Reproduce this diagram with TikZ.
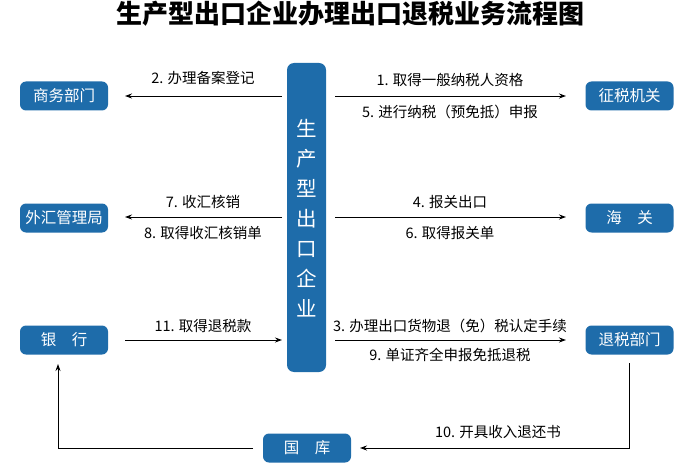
\documentclass[tikz,border=0pt]{standalone}
\usepackage{fontspec}
\setmainfont{Noto Sans CJK SC}
\usetikzlibrary{arrows.meta}
\definecolor{boxblue}{RGB}{30,108,170}
\tikzset{
  org/.style={fill=boxblue, rounded corners=6pt, text=white, minimum width=88pt, minimum height=29pt, inner sep=0pt, font=\fontsize{15.5}{18}\selectfont},
  lbl/.style={font=\fontsize{14.5}{17}\selectfont, text=black, inner sep=0pt},
  arr/.style={-{Stealth[length=7pt,width=5pt]}, line width=0.9pt, black},
  ln/.style={line width=0.9pt, black}
}
\begin{document}
\begin{tikzpicture}[x=1pt,y=-1pt]
\useasboundingbox (0,0) rectangle (700,470);
\node[font=\fontsize{26}{30}\selectfont\bfseries] (title) at (350,14) {生产型出口企业办理出口退税业务流程图};
% central box
\node[fill=boxblue, rounded corners=7pt, minimum width=39pt, minimum height=309pt, inner sep=0pt] (c) at (306.5,217.5) {};
\node[text=white, font=\fontsize{20.5}{30}\selectfont, align=center, inner sep=0pt] (ct) at (306.5,218) {生\\产\\型\\出\\口\\企\\业};
% org boxes
\node[org] (swbm) at (64,96) {商务部门};
\node[org] (whgl) at (64,218) {外汇管理局};
\node[org] (yh) at (64,340) {银\hspace{1em}行};
\node[org] (zsjg) at (629.5,96) {征税机关};
\node[org] (hg) at (629.5,218) {海\hspace{1em}关};
\node[org] (tsbm) at (629.5,340) {退税部门};
\node[org] (gk) at (307,448) {国\hspace{1em}库};
% anchor coordinates
\coordinate (cl1) at (282,96); \coordinate (cr1) at (335,96);
\coordinate (cl2) at (282,217); \coordinate (cr2) at (335,217);
\coordinate (cl3) at (282,340); \coordinate (cr3) at (335,340);
\coordinate (l1) at (125,96); \coordinate (r1) at (566,96);
\coordinate (l2) at (125,217); \coordinate (r2) at (566,217);
\coordinate (l3) at (125,340); \coordinate (r3) at (566,340);
% arrows
\draw[arr] (cl1) -- (l1);
\draw[arr] (cr1) -- (r1);
\draw[arr] (cl2) -- (l2);
\draw[arr] (cr2) -- (r2);
\draw[arr] (l3) -- (cl3);
\draw[arr] (cr3) -- (r3);
\coordinate (tb) at (629,363);
\coordinate (tc) at (629,448);
\coordinate (gr) at (360,448);
\draw[arr] (tb) -- (tc) -- (gr);
\coordinate (gl) at (253,448);
\coordinate (bc) at (58,448);
\coordinate (yb) at (58,364);
\draw[arr] (gl) -- (bc) -- (yb);
% labels
\node[lbl] (t2) at (203,78) {2. 办理备案登记};
\node[lbl] (t1) at (450,80) {1. 取得一般纳税人资格};
\node[lbl] (t5) at (450,112) {5. 进行纳税（预免抵）申报};
\node[lbl] (t7) at (203,202) {7. 收汇核销};
\node[lbl] (t8) at (203,233) {8. 取得收汇核销单};
\node[lbl] (t4) at (450,202) {4. 报关出口};
\node[lbl] (t6) at (450,233) {6. 取得报关单};
\node[lbl] (t11) at (203,326) {11. 取得退税款};
\node[lbl] (t3) at (450,326) {3. 办理出口货物退（免）税认定手续};
\node[lbl] (t9) at (450,355) {9. 单证齐全申报免抵退税};
\node[lbl] (t10) at (498,432) {10. 开具收入退还书};
\end{tikzpicture}
\end{document}
